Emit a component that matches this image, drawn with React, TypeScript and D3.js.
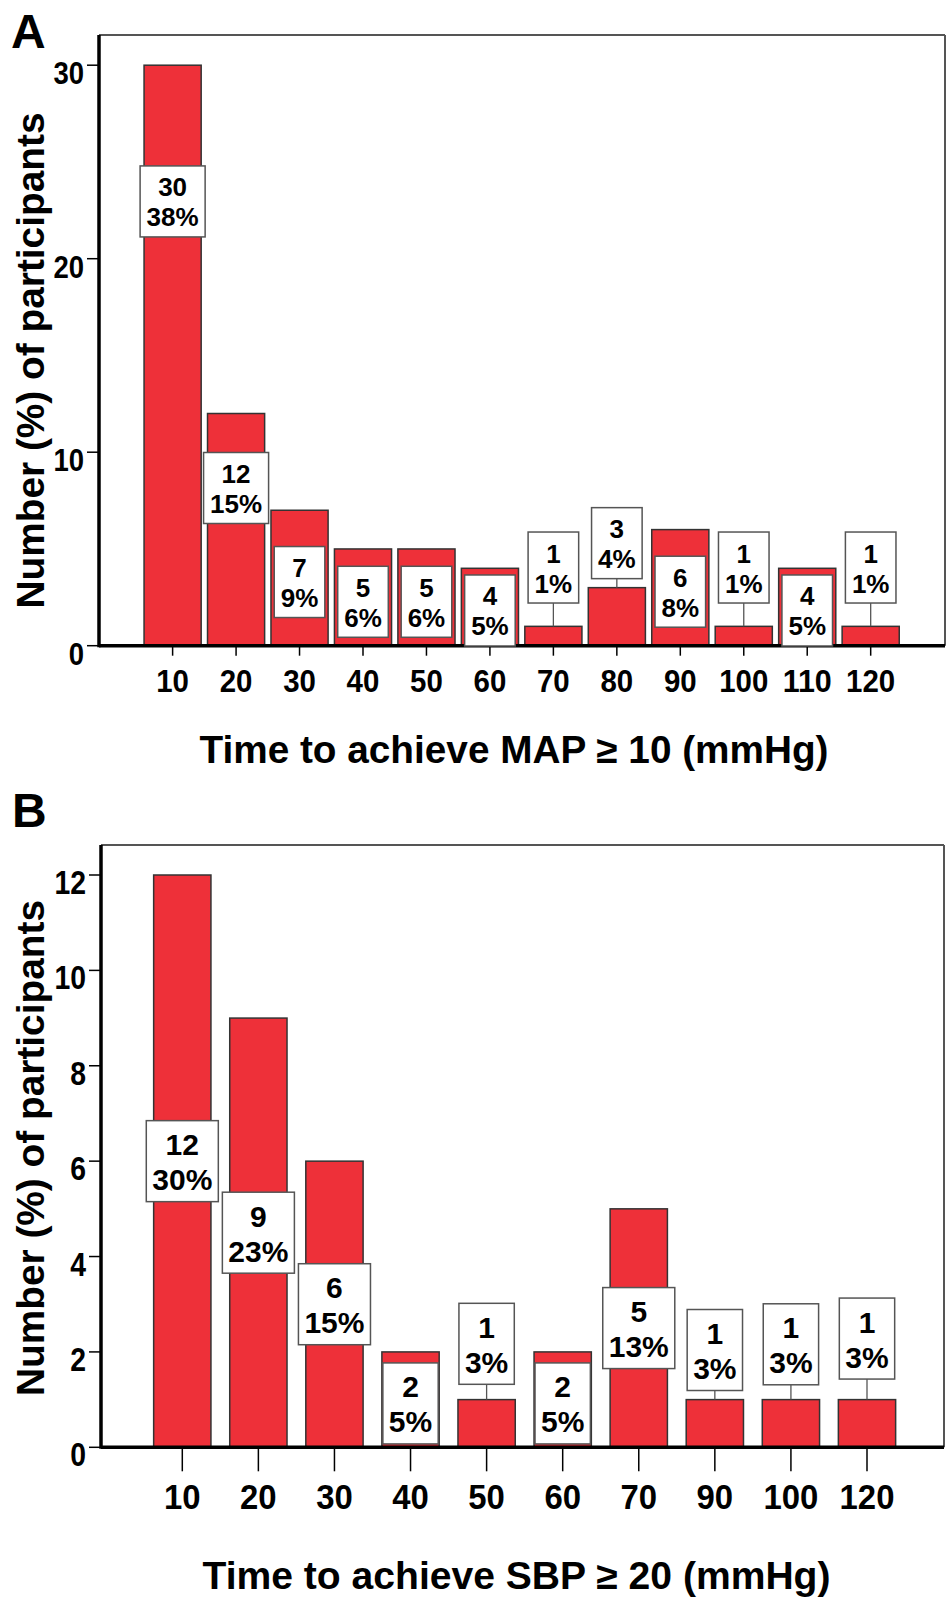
import React from 'react'
import * as d3 from 'd3'

// panel A: time to achieve MAP >= 10 mmHg
const catsA = ['10', '20', '30', '40', '50', '60', '70', '80', '90', '100', '110', '120'];
const countsA = [30, 12, 7, 5, 5, 4, 1, 3, 6, 1, 4, 1];
const pctA = [38, 15, 9, 6, 6, 5, 1, 4, 8, 1, 5, 1];
// value (in participants) at which each label box is centred
const labelAtA = [22.96, 8.15, 3.29, 2.27, 2.27, 1.82, 4.04, 5.3, 2.79, 4.04, 1.82, 4.04];
const ticksA = [0, 10, 20, 30];

// panel B: time to achieve SBP >= 20 mmHg
const catsB = ['10', '20', '30', '40', '50', '60', '70', '90', '100', '120'];
const countsB = [12, 9, 6, 2, 1, 2, 5, 1, 1, 1];
const pctB = [30, 23, 15, 5, 3, 5, 13, 3, 3, 3];
const labelAtB = [6.0, 4.5, 3.0, 0.92, 2.17, 0.92, 2.5, 2.04, 2.16, 2.28];
const ticksB = [0, 2, 4, 6, 8, 10, 12];

const FONT = '"Liberation Sans", Arial, Helvetica, sans-serif';
const RED = '#ee3039';

const textW = (s: string, fs: number) =>
  s.split('').reduce((a, c) => a + (c === '%' ? 0.889 : 0.556), 0) * fs;

// narrow-ish bold text like the SPSS output
function Squeezed({ s, fs, k, ...rest }: any) {
  return (
    <text fontSize={fs} textLength={textW(s, fs) * k} lengthAdjust="spacingAndGlyphs" {...rest}>{s}</text>
  );
}

function Panel(props: any) {
  const { letter, cats, counts, pcts, labelAt, ticks, yMax, title, g } = props;
  const x = d3.scalePoint<string>().domain(cats).range(g.xr).padding(g.pad);
  const y = d3.scaleLinear().domain([0, yMax]).range([g.y0, g.yTop]);
  const bw = x.step() * g.barFrac;

  return (
    <g fontFamily={FONT} fontWeight="bold">
      <text x={g.letterX} y={g.letterBase} fontSize={48}>{letter}</text>

      {/* frame */}
      <line x1={g.left} x2={g.right} y1={g.top} y2={g.top} stroke="#555" strokeWidth={2} />
      <line x1={g.right} x2={g.right} y1={g.top} y2={g.y0} stroke="#555" strokeWidth={2} />

      {/* bars */}
      {cats.map((c: string, i: number) => (
        <rect key={c} x={x(c)! - bw / 2} y={y(counts[i])} width={bw}
          height={y(0) - y(counts[i])} fill={RED} stroke="#333" strokeWidth={1.5} />
      ))}

      {/* axes */}
      <line x1={g.left} x2={g.left} y1={g.top} y2={g.y0 + 1.5} stroke="#000" strokeWidth={3.5} />
      <line x1={g.left} x2={g.right} y1={g.y0} y2={g.y0} stroke="#000" strokeWidth={3.5} />
      {ticks.map((t: number) => (
        <g key={t}>
          <line x1={g.left - 12} x2={g.left} y1={y(t)} y2={y(t)} stroke="#000" strokeWidth={1.5} />
          <Squeezed s={String(t)} fs={g.yTickFont} k={0.86} x={g.left - 15} y={y(t) + 19}
            textAnchor="end" />
        </g>
      ))}
      {cats.map((c: string) => (
        <g key={c}>
          <line x1={x(c)} x2={x(c)} y1={g.y0} y2={g.y0 + g.tickLen} stroke="#000" strokeWidth={1.5} />
          <Squeezed s={c} fs={g.xTickFont} k={g.xSqueeze} x={x(c)} y={g.xTickBase} textAnchor="middle" />
        </g>
      ))}

      {/* value labels */}
      {cats.map((c: string, i: number) => {
        const l1 = String(counts[i]);
        const l2 = pcts[i] + '%';
        const w = Math.max(textW(l1, g.labelFont), textW(l2, g.labelFont)) + g.boxPad;
        const cy = y(labelAt[i]);
        const cx = x(c)!;
        const top = y(counts[i]);
        const bottom = cy + g.boxH / 2;
        return (
          <g key={c}>
            {bottom < top - 2 && (
              <line x1={cx} x2={cx} y1={bottom} y2={top} stroke="#555" strokeWidth={1.3} />
            )}
            <rect x={cx - w / 2} y={cy - g.boxH / 2} width={w} height={g.boxH}
              fill="#fff" stroke="#555" strokeWidth={1.5} />
            <text textAnchor="middle" fontSize={g.labelFont}>
              <tspan x={cx} y={cy + g.line1}>{l1}</tspan>
              <tspan x={cx} y={cy + g.line2}>{l2}</tspan>
            </text>
          </g>
        );
      })}

      {/* axis titles */}
      <text transform={`translate(44,${g.yTitleCy}) rotate(-90)`} textAnchor="middle"
        fontSize={38} textLength={496} lengthAdjust="spacingAndGlyphs">
        Number (%) of participants
      </text>
      <text x={g.titleCx} y={g.titleBase} textAnchor="middle" fontSize={38}
        textLength={g.titleLen} lengthAdjust="spacingAndGlyphs">{title}</text>
    </g>
  );
}

const geomA = {
  letterX: 11, letterBase: 48, left: 99, right: 945, top: 35, y0: 645.7, yTop: 65.2,
  xr: [99, 944.3], pad: 1.16, barFrac: 0.9, tickLen: 10, xTickFont: 31, xSqueeze: 0.95, xTickBase: 692,
  yTickFont: 32, labelFont: 26, boxH: 71, boxPad: 13, line1: -5, line2: 25,
  titleCx: 514, titleBase: 763, titleLen: 629, yTitleCy: 360.5,
};
const geomB = {
  letterX: 12, letterBase: 827, left: 101, right: 944, top: 845, y0: 1447.3, yTop: 875,
  xr: [104.7, 944.6], pad: 1.02, barFrac: 0.753, tickLen: 24, xTickFont: 35, xSqueeze: 0.94, xTickBase: 1509,
  yTickFont: 33, labelFont: 30, boxH: 81, boxPad: 12, line1: -6, line2: 29,
  titleCx: 516.5, titleBase: 1589, titleLen: 628, yTitleCy: 1148,
};

export default function App() {
  return (
    <svg width={948} height={1603} style={{ position: 'absolute', left: 0, top: 0, background: '#fff' }}>
      <rect width={948} height={1603} fill="#fff" />
      <Panel letter="A" cats={catsA} counts={countsA} pcts={pctA} labelAt={labelAtA}
        ticks={ticksA} yMax={30} title="Time to achieve MAP ≥ 10 (mmHg)" g={geomA} />
      <Panel letter="B" cats={catsB} counts={countsB} pcts={pctB} labelAt={labelAtB}
        ticks={ticksB} yMax={12} title="Time to achieve SBP ≥ 20 (mmHg)" g={geomB} />
    </svg>
  );
}
